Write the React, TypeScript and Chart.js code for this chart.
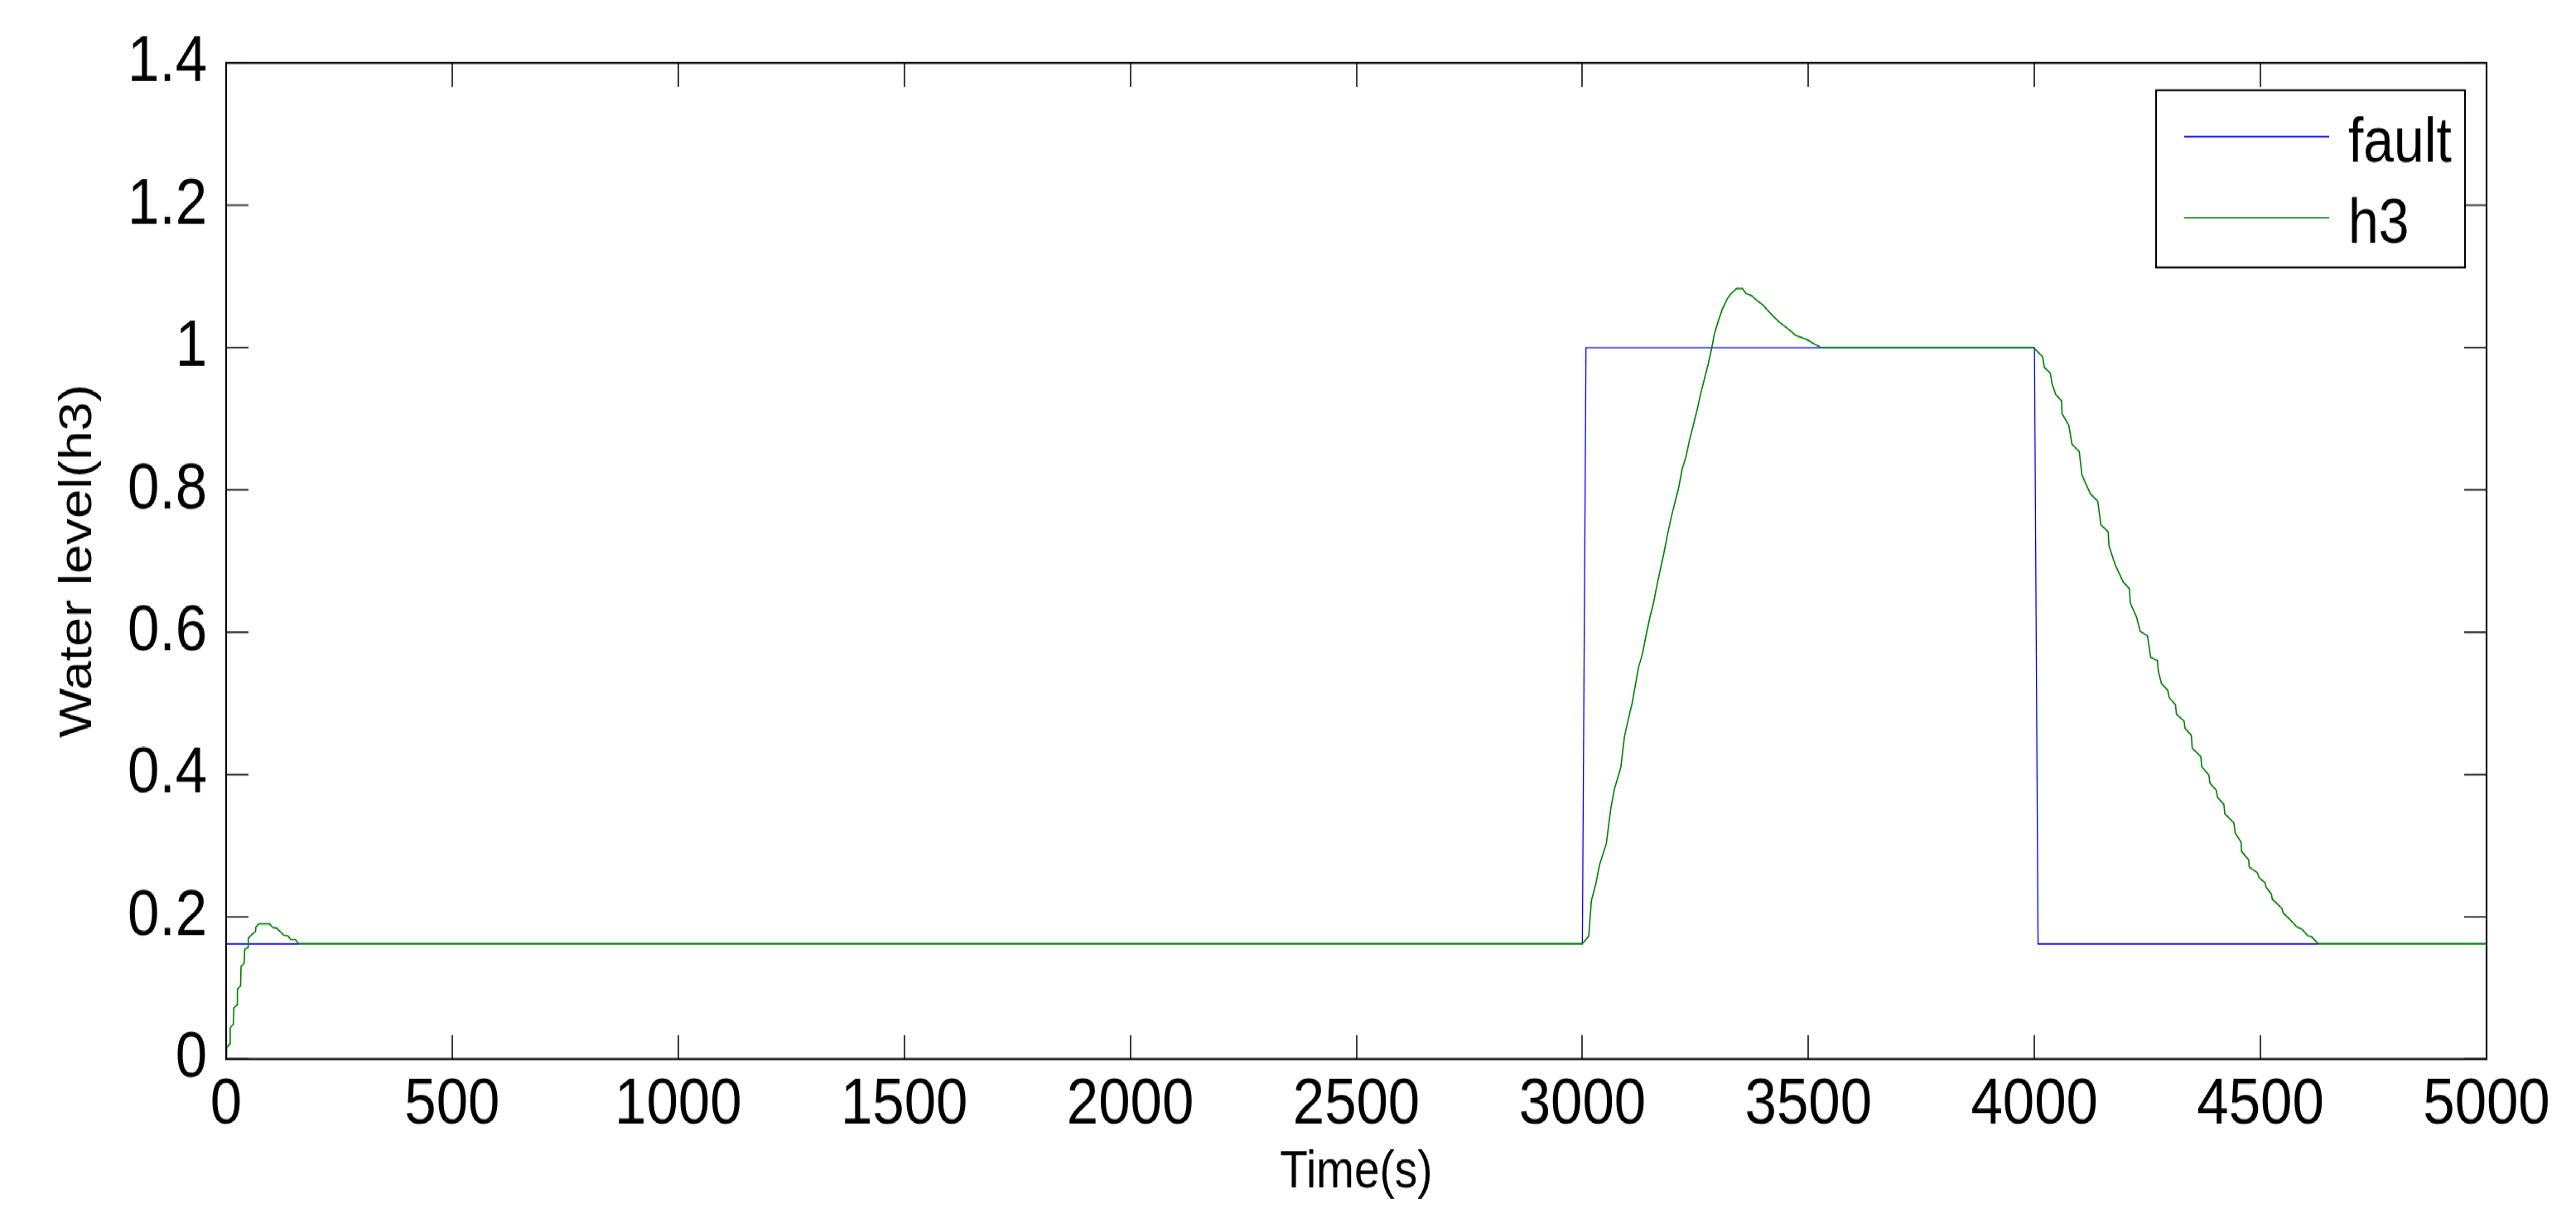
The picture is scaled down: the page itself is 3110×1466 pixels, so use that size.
import React, { useEffect, useRef } from "react";
import { Chart, registerables } from "chart.js";

Chart.register(...registerables);

// ---- data ----
const faultTime = [0, 3000, 3008, 4000, 4008, 5000];
const faultLevel = [0.162, 0.162, 1.0, 1.0, 0.162, 0.162];

const h3Time = [
  0, 1, 8, 9, 16, 17, 24, 25, 32, 33, 40, 41, 48, 49, 58, 65, 66, 73, 96, 103, 112, 128, 137, 143, 153, 161,
  3000, 3014, 3020, 3030, 3038, 3053, 3063, 3071, 3085, 3093, 3101, 3110, 3124, 3133, 3141, 3149, 3157, 3165,
  3173, 3180, 3188, 3196, 3205, 3213, 3221, 3229, 3237, 3245, 3254, 3262, 3270, 3278, 3286, 3292, 3300, 3309,
  3321, 3329, 3341, 3354, 3362, 3374, 3386, 3399, 3419, 3435, 3452, 3472, 3497, 3513, 3528,
  3998, 4018, 4022, 4035, 4039, 4047, 4060, 4061, 4076, 4083, 4099, 4105, 4124, 4140, 4147, 4163, 4165, 4179,
  4196, 4210, 4212, 4226, 4234, 4250, 4257, 4272, 4274, 4281, 4295, 4298, 4312, 4314, 4331, 4333, 4347, 4349,
  4368, 4370, 4386, 4388, 4402, 4405, 4419, 4421, 4441, 4444, 4457, 4458, 4474, 4475, 4493, 4497, 4510, 4512,
  4524, 4526, 4547, 4551, 4564, 4580, 4593, 4605, 4613, 4628, 5000,
];
const h3Level = [
  0.0, 0.016, 0.021, 0.044, 0.049, 0.072, 0.076, 0.098, 0.103, 0.13, 0.135, 0.154, 0.157, 0.17, 0.176, 0.179,
  0.186, 0.19, 0.19, 0.185, 0.184, 0.174, 0.173, 0.168, 0.168, 0.162,
  0.162, 0.173, 0.223, 0.247, 0.273, 0.303, 0.353, 0.38, 0.41, 0.453, 0.476, 0.5, 0.55, 0.57, 0.596, 0.62, 0.64,
  0.666, 0.69, 0.71, 0.736, 0.76, 0.783, 0.803, 0.83, 0.846, 0.87, 0.89, 0.913, 0.936, 0.956, 0.976, 0.999,
  1.019, 1.036, 1.053, 1.069, 1.076, 1.083, 1.083, 1.076, 1.073, 1.066, 1.06, 1.046, 1.036, 1.028, 1.017, 1.011,
  1.005, 1.0,
  1.0, 0.987, 0.972, 0.964, 0.949, 0.934, 0.925, 0.907, 0.891, 0.864, 0.854, 0.821, 0.794, 0.784, 0.751, 0.741,
  0.721, 0.694, 0.671, 0.661, 0.641, 0.621, 0.601, 0.595, 0.565, 0.56, 0.545, 0.528, 0.518, 0.508, 0.498, 0.485,
  0.475, 0.465, 0.455, 0.437, 0.425, 0.411, 0.399, 0.388, 0.378, 0.368, 0.358, 0.345, 0.332, 0.318, 0.305,
  0.292, 0.28, 0.27, 0.262, 0.255, 0.248, 0.242, 0.232, 0.225, 0.212, 0.205, 0.197, 0.186, 0.182, 0.173, 0.172,
  0.162, 0.162,
];

const seriesLabels = ["fault", "h3"];
const xTitle = "Time(s)";
const yTitle = "Water level(h3)";
const xMin = 0, xMax = 5000, xStep = 500;
const yMin = 0, yMax = 1.4, yStep = 0.2;

// ---- styling / layout (page pixels) ----
const FONT = '"Liberation Sans", Arial, Helvetica, sans-serif';
const W = 3110, H = 1466;
const STRETCH = 1.15; // the reference figure is vertically stretched (tall, narrow glyphs)
const HC = Math.round(H / STRETCH); // canvas logical height
const cy = (y: number) => (y * HC) / H; // page y -> canvas y
const PLOT = { left: 273, right: 3002, top: 76, bottom: 1279 };
const TICK_FONT = 69;
const LEGEND_FONT = 66;
const LEGEND = { left: 2603, top: 109, right: 2976, bottom: 323, x0: 2637, x1: 2812, textX: 2835, rows: [165, 263], baseOff: 30 };

const zip = (xs: number[], ys: number[]) => xs.map((x, i) => ({ x, y: ys[i] }));

const matlabPlugin = {
  id: "matlabFrame",
  afterDatasetsDraw(chart: any) {
    const { ctx, chartArea: a, scales } = chart;
    ctx.save();
    ctx.strokeStyle = "#000";
    ctx.lineWidth = 1.5;
    ctx.beginPath();
    const xt = cy(29);
    for (const t of scales.x.ticks) {
      const px = Math.round(scales.x.getPixelForValue(t.value));
      ctx.moveTo(px, a.bottom);
      ctx.lineTo(px, a.bottom - xt);
      ctx.moveTo(px, a.top);
      ctx.lineTo(px, a.top + xt);
    }
    for (const t of scales.y.ticks) {
      const py = scales.y.getPixelForValue(t.value);
      ctx.moveTo(a.left, py);
      ctx.lineTo(a.left + 27, py);
      ctx.moveTo(a.right, py);
      ctx.lineTo(a.right - 27, py);
    }
    ctx.stroke();
    ctx.lineWidth = 2.1;
    ctx.strokeRect(a.left, a.top, a.right - a.left, a.bottom - a.top);

    // legend box
    const lt = cy(LEGEND.top), lb = cy(LEGEND.bottom);
    ctx.fillStyle = "#fff";
    ctx.fillRect(LEGEND.left, lt, LEGEND.right - LEGEND.left, lb - lt);
    ctx.lineWidth = 2.1;
    ctx.strokeStyle = "#000";
    ctx.strokeRect(LEGEND.left, lt, LEGEND.right - LEGEND.left, lb - lt);
    chart.data.datasets.forEach((ds: any, i: number) => {
      const y = cy(LEGEND.rows[i]);
      ctx.strokeStyle = ds.borderColor;
      ctx.lineWidth = 1.3;
      ctx.beginPath();
      ctx.moveTo(LEGEND.x0, y);
      ctx.lineTo(LEGEND.x1, y);
      ctx.stroke();
      ctx.fillStyle = "#000";
      ctx.font = `${LEGEND_FONT}px ${FONT}`;
      ctx.textAlign = "left";
      ctx.textBaseline = "alphabetic";
      ctx.fillText(ds.label, LEGEND.textX, cy(LEGEND.rows[i] + LEGEND.baseOff));
    });
    ctx.restore();
  },
};

export default function App() {
  const canvasRef = useRef<HTMLCanvasElement | null>(null);

  useEffect(() => {
    if (!canvasRef.current) return;
    const plotBottomC = cy(PLOT.bottom);
    const chart = new Chart(canvasRef.current, {
      type: "line",
      data: {
        datasets: [
          {
            label: seriesLabels[0],
            data: zip(faultTime, faultLevel),
            borderColor: "#0000FF",
            borderWidth: 1.3,
            pointRadius: 0,
            fill: false,
            tension: 0,
            order: 1,
          },
          {
            label: seriesLabels[1],
            data: zip(h3Time, h3Level),
            borderColor: "#008000",
            borderWidth: 1.6,
            pointRadius: 0,
            fill: false,
            tension: 0,
            order: 0,
          },
        ],
      },
      options: {
        animation: false,
        responsive: true,
        maintainAspectRatio: false,
        devicePixelRatio: 1,
        layout: { padding: { left: 0, right: W - PLOT.right, top: cy(PLOT.top), bottom: 0 } },
        plugins: { legend: { display: false }, tooltip: { enabled: false }, title: { display: false } },
        scales: {
          x: {
            type: "linear",
            min: xMin,
            max: xMax,
            grid: { display: false, drawTicks: false },
            border: { display: false },
            ticks: {
              stepSize: xStep,
              autoSkip: false,
              maxRotation: 0,
              padding: 14,
              color: "#000",
              font: { family: FONT, size: TICK_FONT, lineHeight: 1 },
              callback: (v: any) => String(v),
            },
            title: {
              display: true,
              text: xTitle,
              color: "#000",
              font: { family: FONT, size: 55, lineHeight: 1 },
              padding: { top: 0, bottom: 16 },
            },
            afterFit: (s: any) => {
              s.height = HC - plotBottomC;
            },
          },
          y: {
            type: "linear",
            min: yMin,
            max: yMax,
            grid: { display: false, drawTicks: false },
            border: { display: false },
            ticks: {
              stepSize: yStep,
              padding: 23,
              color: "#000",
              font: { family: FONT, size: TICK_FONT, lineHeight: 1 },
              callback: (v: any) => String(Math.round(Number(v) * 10) / 10),
            },
            title: {
              display: true,
              text: yTitle,
              color: "#000",
              font: { family: FONT, size: 55, lineHeight: 1 },
              padding: { top: 67, bottom: 0 },
            },
            afterFit: (s: any) => {
              s.width = PLOT.left;
            },
          },
        },
      },
      plugins: [matlabPlugin],
    });
    return () => chart.destroy();
  }, []);

  return (
    <div
      style={{
        position: "absolute",
        left: 0,
        top: 0,
        width: W,
        height: HC,
        background: "#fff",
        transform: `scaleY(${H / HC})`,
        transformOrigin: "0 0",
      }}
    >
      <canvas ref={canvasRef} />
    </div>
  );
}
